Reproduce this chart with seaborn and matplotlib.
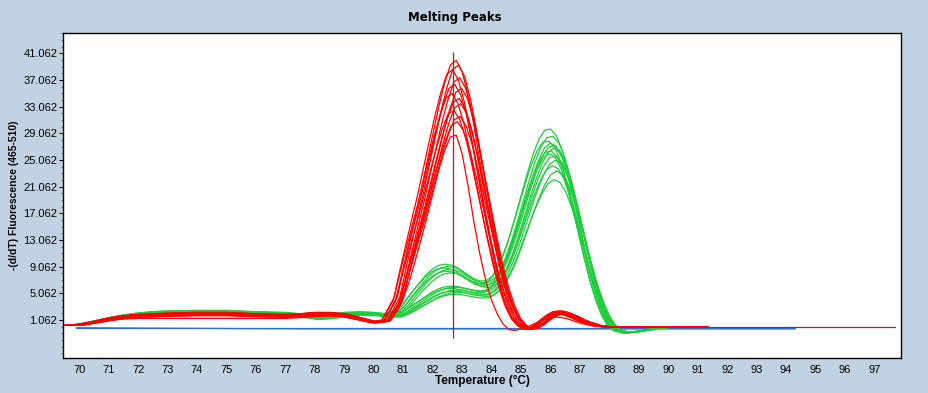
import numpy as np
import pandas as pd
import matplotlib
matplotlib.use("Agg")
import matplotlib.pyplot as plt
from matplotlib.ticker import MultipleLocator, FixedLocator
import seaborn as sns

# Temperature grid shared by the red and green melting curves (deg C)
temps = [69.6, 70.0, 70.5, 71.0, 71.5, 72.0, 72.5, 73.0, 74.0, 75.0, 76.0, 77.0,
         77.5, 78.0, 78.5, 79.0, 79.5, 80.0, 80.4, 80.8,
         81.0, 81.2, 81.4, 81.6, 81.8, 82.0, 82.2, 82.4, 82.6, 82.8, 83.0,
         83.2, 83.4, 83.6, 83.8, 84.0, 84.2, 84.4, 84.6, 84.8, 85.0,
         85.2, 85.4, 85.6, 85.8, 86.0, 86.2, 86.4, 86.6, 86.8, 87.0,
         87.2, 87.4, 87.6, 87.8, 88.0,
         88.2, 88.5, 88.8, 89.2, 89.6, 90.0, 90.5, 91.2]

# Tallest red curve
red_top = [0.3, 0.4, 0.8, 1.3, 1.7, 1.9, 2.0, 2.1, 2.2, 2.2, 2.0, 1.9,
           2.0, 2.2, 2.2, 2.0, 1.4, 0.8, 1.1, 4.5,
           8.6, 12.6, 16.5, 20.3, 24.5, 28.7, 32.8, 36.4, 39.2, 39.9, 38.2,
           34.8, 30.2, 25.0, 20.0, 15.0, 10.4, 6.6, 3.6, 1.5, 0.3,
           -0.3, -0.2, 0.4, 1.2, 1.9, 2.4, 2.4, 2.1, 1.7, 1.2,
           0.8, 0.5, 0.2, 0.1, 0.0,
           -0.05, -0.05, 0.0, 0.0, 0.0, 0.0, 0.0, 0.0]

# The one narrow red curve (peak ~29)
red_narrow = [0.3, 0.4, 0.7, 1.0, 1.2, 1.3, 1.3, 1.3, 1.3, 1.3, 1.3, 1.3,
              1.4, 1.6, 1.7, 1.5, 1.1, 0.6, 0.8, 2.4,
              4.3, 6.8, 9.8, 13.0, 16.4, 19.9, 23.4, 26.4, 28.5, 28.8, 26.0,
              21.2, 15.8, 11.0, 7.0, 4.0, 1.9, 0.4, -0.4, -0.5, -0.3,
              0.0, 0.4, 0.8, 1.2, 1.4, 1.5, 1.4, 1.2, 0.9, 0.6,
              0.4, 0.2, 0.1, 0.0, 0.0,
              0.0, 0.0, 0.0, 0.0, 0.0, 0.0, 0.0, 0.0]

# Peak heights and peak offsets of the other red curves
red_heights = [40.0, 39.3, 38.6, 37.4, 36.4, 35.8, 35.0, 34.3, 33.5, 32.5, 31.6, 30.8]
red_shifts = [0.0, 0.08, -0.12, 0.12, -0.05, 0.18, -0.14, 0.1, 0.15, -0.08, 0.13, 0.04]

# Green curves with the taller first bump
green_high = [0.3, 0.4, 0.9, 1.4, 1.8, 2.1, 2.3, 2.4, 2.5, 2.5, 2.3, 2.2,
              2.0, 1.6, 1.8, 2.2, 2.3, 2.2, 2.0, 2.6,
              3.4, 4.6, 5.8, 6.9, 7.9, 8.7, 9.2, 9.4, 9.3, 9.0, 8.4,
              7.8, 7.2, 6.9, 6.9, 7.5, 8.8, 10.8, 13.4, 16.4, 19.6,
              22.8, 25.7, 28.0, 29.4, 29.6, 28.6, 26.4, 23.2, 19.4, 15.2,
              11.0, 7.3, 4.2, 1.8, 0.2,
              -0.6, -0.9, -0.8, -0.5, -0.2, 0.0, 0.0, 0.0]
green_high_heights = [29.7, 28.6, 27.9, 27.2, 26.4, 25.6]
green_high_shifts = [0.0, 0.08, -0.06, 0.14, 0.03, 0.18]

# Green curves with the lower first bump
green_low = [0.3, 0.4, 0.9, 1.4, 1.8, 2.1, 2.3, 2.4, 2.4, 2.4, 2.3, 2.1,
             1.8, 1.4, 1.6, 2.0, 2.2, 2.1, 1.8, 1.9,
             2.3, 2.9, 3.5, 4.1, 4.7, 5.3, 5.7, 6.0, 6.1, 6.1, 5.9,
             5.7, 5.5, 5.4, 5.5, 6.1, 7.2, 8.9, 11.1, 13.8, 16.8,
             19.8, 22.6, 25.0, 26.8, 27.5, 27.0, 25.2, 22.4, 18.8, 14.9,
             11.0, 7.4, 4.4, 2.0, 0.4,
             -0.5, -0.9, -0.8, -0.5, -0.2, 0.0, 0.0, 0.0]
green_low_heights = [27.6, 26.8, 26.0, 25.0, 24.2, 23.4, 22.1]
green_low_shifts = [0.0, 0.1, -0.05, 0.16, 0.06, 0.2, 0.12]

# Flat blue (negative control) curves
blue_temps = [69.9, 77.7, 80.8, 83.3, 84.3, 85.6, 86.1, 86.8, 87.4, 94.3]
blue_main = [-0.1, -0.1, -0.1, -0.1, -0.1, -0.1, -0.1, -0.1, -0.1, -0.1]
blue_low = [-0.1, -0.28, -0.28, -0.28, -0.28, -0.28, -0.28, -0.28, -0.28, -0.28]

# Cursor lines
cursor_temp = 82.7
cursor_span = [-1.6, 41.3]
base_line_temps = [88.0, 97.7]
base_line_vals = [0.0, 0.0]

y_major = [1.062 + 4 * k for k in range(11)]
x_ticks = list(range(70, 98))

RED = "#ff0000"
GREEN = "#1ecd3c"
BLUE = "#2a6fc9"
CURSOR = "#b01e1e"
BG = "#c1d3e3"


def build(template, heights, shifts, name):
    rows = []
    peak = max(template)
    for i, (h, s) in enumerate(zip(heights, shifts)):
        for t, v in zip(temps, template):
            rows.append({"temp": t + s, "value": v * h / peak, "curve": f"{name}{i}"})
    return rows


red_rows = build(red_top, red_heights, red_shifts, "r")
red_rows += [{"temp": t, "value": v, "curve": "rn"} for t, v in zip(temps, red_narrow)]
red_df = pd.DataFrame(red_rows)
green_df = pd.DataFrame(build(green_high, green_high_heights, green_high_shifts, "gh")
                        + build(green_low, green_low_heights, green_low_shifts, "gl"))
blue_df = pd.DataFrame(
    [{"temp": t, "value": v, "curve": "b0"} for t, v in zip(blue_temps, blue_main)]
    + [{"temp": t, "value": v, "curve": "b1"} for t, v in zip(blue_temps, blue_low)])

sns.set_theme(style="white")
plt.rcParams["font.family"] = ["Liberation Sans", "DejaVu Sans"]
plt.rcParams["text.color"] = "black"
plt.rcParams["axes.labelcolor"] = "black"

fig = plt.figure(figsize=(9.29, 3.93), dpi=100, facecolor=BG)
ax = fig.add_axes([63 / 929, 1 - 358 / 393, (901 - 63) / 929, (358 - 33) / 393])
ax.set_facecolor("white")

ax.plot(base_line_temps, base_line_vals, color=CURSOR, lw=0.9, zorder=1)
sns.lineplot(data=blue_df, x="temp", y="value", units="curve", estimator=None,
             color=BLUE, lw=0.9, sort=False, ax=ax, legend=False)
sns.lineplot(data=green_df, x="temp", y="value", units="curve", estimator=None,
             color=GREEN, lw=0.9, sort=False, ax=ax, legend=False)
sns.lineplot(data=red_df, x="temp", y="value", units="curve", estimator=None,
             color=RED, lw=0.9, sort=False, ax=ax, legend=False)
ax.vlines(cursor_temp, cursor_span[0], cursor_span[1], color=CURSOR, lw=0.9, zorder=5)

ax.set_xlim(69.45, 97.9)
ax.set_ylim(-4.64, 44.1)

ax.yaxis.set_major_locator(FixedLocator(y_major))
ax.yaxis.set_minor_locator(MultipleLocator(1.0, offset=0.062))
ax.set_yticklabels([f"{v:.3f}" for v in y_major])
ax.xaxis.set_major_locator(FixedLocator(x_ticks))
ax.set_xticklabels([str(t) for t in x_ticks])

ax.tick_params(axis="y", which="major", left=True, length=3, width=0.8, pad=1,
               labelsize=8, colors="black")
ax.tick_params(axis="y", which="minor", left=True, length=1.6, width=0.6, color="#555555")
ax.tick_params(axis="x", which="major", bottom=True, length=0, pad=5, labelsize=8,
               colors="black")

for sp in ax.spines.values():
    sp.set_color("black")
    sp.set_linewidth(1.0)

ax.set_xlabel("Temperature (°C)", fontsize=8.5, fontweight="bold", labelpad=0)
ax.set_ylabel("-(d/dT) Fluorescence (465-510)", fontsize=7.5, fontweight="bold", labelpad=3)
fig.text(455 / 929, 1 - 18 / 393, "Melting Peaks", ha="center", va="center",
         fontsize=8.5, fontweight="bold", family=["DejaVu Sans"], color="black")

fig.savefig("out.png", dpi=100, facecolor=BG)
